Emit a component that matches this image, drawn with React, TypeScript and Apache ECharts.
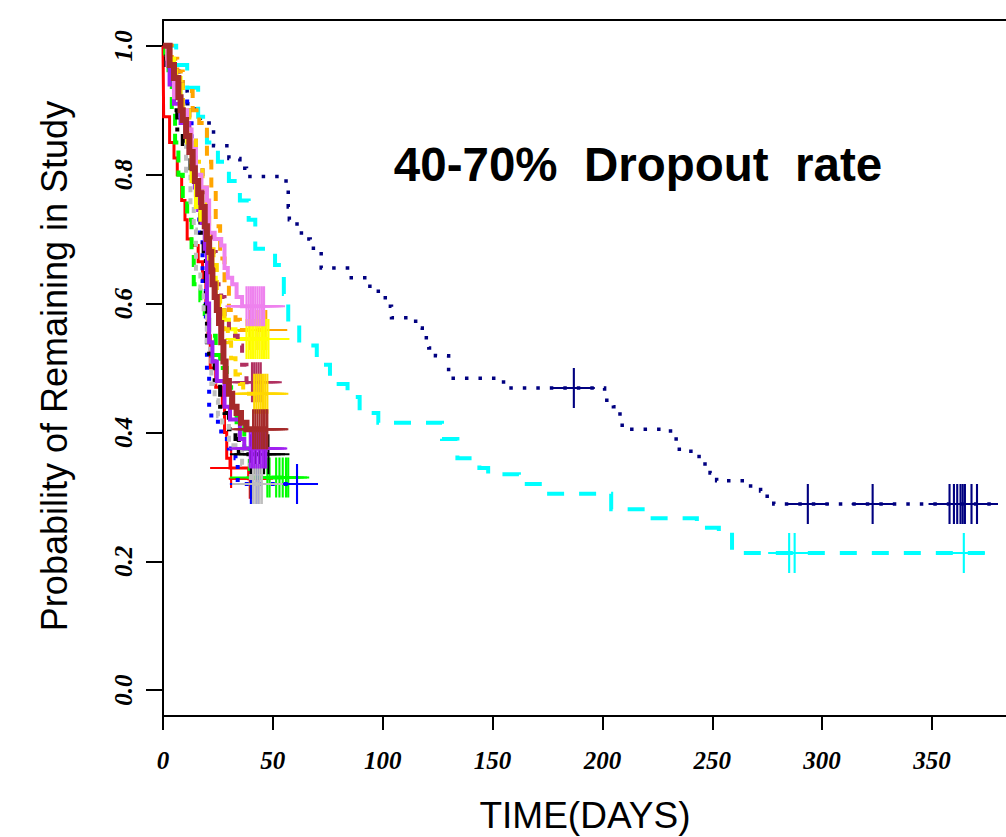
import React, { useEffect, useRef } from "react";
import * as echarts from "echarts";

// ---------- axis ticks ----------
const xTicks = [0, 50, 100, 150, 200, 250, 300, 350];
const yTicks = [0, 0.2, 0.4, 0.6, 0.8, 1.0];

// ---------- long curves ----------
const navyTimes = [0, 1, 3, 9, 11, 15, 17, 21, 23, 30, 35, 38, 56, 57, 57.5, 61, 63, 67, 72, 84, 93, 98, 102, 104, 115, 118, 121, 124, 130, 131, 155, 201, 205, 208, 209, 231, 235, 244, 249, 252, 266, 272, 275, 278, 380];
const navySurv = [1, 0.98, 0.96, 0.93, 0.91, 0.9, 0.88, 0.87, 0.845, 0.825, 0.81, 0.797, 0.78, 0.75, 0.73, 0.717, 0.7, 0.686, 0.655, 0.64, 0.627, 0.609, 0.596, 0.578, 0.562, 0.547, 0.531, 0.519, 0.491, 0.484, 0.469, 0.45, 0.44, 0.42, 0.405, 0.39, 0.371, 0.351, 0.337, 0.325, 0.317, 0.309, 0.293, 0.289, 0.289];
const navyCensor = [187, 293.5, 323, 358, 360, 361.5, 363, 364, 365, 368, 370.5];

const cyanTimes = [0, 6, 11, 16, 20, 25, 30, 35, 39, 42, 51, 55, 57, 62, 70, 76, 84, 89.5, 98, 127, 134, 144, 148, 162, 173, 204, 221, 243, 253, 259, 375];
const cyanSurv = [1, 0.97, 0.935, 0.89, 0.85, 0.82, 0.79, 0.76, 0.73, 0.685, 0.66, 0.615, 0.57, 0.535, 0.505, 0.475, 0.455, 0.43, 0.415, 0.39, 0.36, 0.345, 0.335, 0.32, 0.305, 0.281, 0.267, 0.252, 0.245, 0.213, 0.213];
const cyanCensor = [285, 287.5, 364.5];

// ---------- short curves ----------
const redTimes = [0, 0.3, 3, 5, 6.5, 8.5, 10, 11, 13, 16, 18, 19.5, 20.5, 21.5, 24, 27, 28, 29, 30.5, 39];
const redSurv = [1, 0.89, 0.85, 0.826, 0.8, 0.76, 0.73, 0.7, 0.69, 0.665, 0.635, 0.6, 0.55, 0.5, 0.47, 0.44, 0.4, 0.36, 0.345, 0.328];
const redCensor = [31, 39.5, 40.5];

const greenTimes = [0, 1, 2.5, 4, 5.5, 7, 9, 11, 13, 14, 17, 19, 21, 24, 26, 29, 31, 33.5, 37, 39.5];
const greenSurv = [1, 0.98, 0.95, 0.9, 0.85, 0.8, 0.76, 0.73, 0.68, 0.63, 0.605, 0.575, 0.55, 0.52, 0.5, 0.47, 0.44, 0.41, 0.375, 0.33];
const greenCensor = [40, 47.5, 48.5, 51.5, 53, 54.5, 56, 57];

const blueTimes = [0, 3, 7, 11, 13, 15, 16.5, 18, 19.5, 20, 21, 22, 25, 26.5, 30, 33, 34];
const blueSurv = [1, 0.96, 0.92, 0.885, 0.85, 0.78, 0.7, 0.635, 0.58, 0.49, 0.44, 0.42, 0.405, 0.39, 0.375, 0.36, 0.32];
const blueCensor = [40, 43, 61];

const blackTimes = [0, 1.5, 5, 6.5, 9, 12.5, 15, 17, 18.5, 19.5, 20, 21, 23.5, 26, 28, 30, 33, 34.5];
const blackSurv = [1, 0.97, 0.9, 0.86, 0.84, 0.8, 0.75, 0.71, 0.67, 0.6, 0.54, 0.51, 0.48, 0.44, 0.43, 0.405, 0.39, 0.366];
const blackCensor = [40, 42, 44, 46, 48];

const grayTimes = [0, 2, 5, 8, 10.5, 12.5, 14, 15, 17, 18.5, 20, 22, 23.5, 25, 27, 30, 36, 40];
const graySurv = [1, 0.97, 0.93, 0.88, 0.8, 0.75, 0.715, 0.65, 0.62, 0.585, 0.53, 0.475, 0.45, 0.425, 0.41, 0.38, 0.35, 0.32];
const grayCensor = [41, 42, 43, 44, 45];

const purpleTimes = [0, 3, 5, 8, 12, 13, 14.5, 16, 17.5, 19, 20, 21, 22.5, 24.5, 28, 30.5, 35, 37];
const purpleSurv = [1, 0.94, 0.91, 0.88, 0.85, 0.82, 0.78, 0.745, 0.725, 0.685, 0.6, 0.54, 0.51, 0.48, 0.44, 0.42, 0.39, 0.375];
const purpleCensor = [39.5, 40.5, 41.5, 42.5, 43.5, 44.5, 45.5, 46.5, 47];

const goldTimes = [0, 3, 6, 9, 12, 15, 18, 20, 21, 23, 24.5, 26, 28, 29.5, 31, 33, 35, 36.5];
const goldSurv = [1, 0.97, 0.94, 0.9, 0.86, 0.82, 0.78, 0.74, 0.69, 0.66, 0.62, 0.6, 0.56, 0.54, 0.515, 0.49, 0.475, 0.46];
const goldCensor = [41.5, 42.5, 43.5, 44.5, 45.5, 46.5, 47.5];

const orangeTimes = [0, 4, 6.5, 9, 13.5, 16.5, 20, 22, 24, 26, 28, 30, 33, 35];
const orangeSurv = [1, 0.98, 0.96, 0.93, 0.9, 0.88, 0.82, 0.78, 0.72, 0.67, 0.63, 0.59, 0.575, 0.559];
const orangeCensor = [39.5, 41, 43, 45, 47];

const yellowTimes = [0, 2, 5, 8, 11, 13, 15, 17, 19.5, 21, 22.5, 24, 25.5, 27, 30, 33];
const yellowSurv = [1, 0.98, 0.95, 0.9, 0.85, 0.79, 0.75, 0.73, 0.7, 0.67, 0.64, 0.61, 0.59, 0.575, 0.56, 0.545];
const yellowCensor = [38, 39, 40, 41, 42, 43, 44, 45, 46, 47, 48];

const maroonTimes = [0, 3, 6, 9, 12, 15, 18, 20, 22, 24, 26.5, 28, 30, 34, 36, 38];
const maroonSurv = [1, 0.97, 0.94, 0.9, 0.86, 0.81, 0.76, 0.72, 0.68, 0.63, 0.61, 0.58, 0.55, 0.535, 0.505, 0.478];
const maroonCensor = [40.5, 41.5, 42.5, 43.5, 44.5];

const violetTimes = [0, 2, 5, 8, 11, 13, 15, 17.5, 20, 21, 23.5, 26.5, 28, 29.5, 31.5, 33.5, 36];
const violetSurv = [1, 0.97, 0.92, 0.9, 0.87, 0.84, 0.8, 0.78, 0.76, 0.71, 0.7, 0.69, 0.655, 0.64, 0.63, 0.61, 0.596];
const violetCensor = [38, 39, 40, 41, 42, 43, 44, 45, 46];

const brownTimes = [0, 3, 5, 7, 8, 9, 10.5, 12, 13.5, 14.5, 16, 17.5, 19, 20, 21, 22, 22.5, 23.5, 24.5, 25.5, 26.5, 27.5, 28.5, 30, 31.5, 33.5, 35.5, 38];
const brownSurv = [1, 0.97, 0.95, 0.92, 0.9, 0.885, 0.86, 0.835, 0.81, 0.79, 0.77, 0.75, 0.72, 0.7, 0.68, 0.65, 0.63, 0.61, 0.59, 0.57, 0.54, 0.51, 0.48, 0.46, 0.44, 0.43, 0.415, 0.405];
const brownCensor = [41, 42, 43, 44, 45, 46, 47, 47.5];

// ---------- styles (separate from data) ----------
type Curve = {
  times: number[];
  surv: number[];
  censor: number[];
  color: string;
  width: number;
  dash: number[] | "solid";
};

const curves: Curve[] = [
  { times: navyTimes, surv: navySurv, censor: navyCensor, color: "#000080", width: 3.5, dash: [3.5, 10] },
  { times: cyanTimes, surv: cyanSurv, censor: cyanCensor, color: "#00FFFF", width: 4, dash: [17, 15] },
  { times: redTimes, surv: redSurv, censor: redCensor, color: "#FF0000", width: 3, dash: "solid" },
  { times: greenTimes, surv: greenSurv, censor: greenCensor, color: "#00FF00", width: 4, dash: [12, 8] },
  { times: blueTimes, surv: blueSurv, censor: blueCensor, color: "#0000FF", width: 4, dash: [4, 9] },
  { times: blackTimes, surv: blackSurv, censor: blackCensor, color: "#000000", width: 4, dash: [4, 8, 12, 8] },
  { times: grayTimes, surv: graySurv, censor: grayCensor, color: "#BEBEBE", width: 4, dash: [6, 6] },
  { times: purpleTimes, surv: purpleSurv, censor: purpleCensor, color: "#A020F0", width: 4, dash: "solid" },
  { times: orangeTimes, surv: orangeSurv, censor: orangeCensor, color: "#FFA500", width: 4, dash: [10, 8] },
  { times: yellowTimes, surv: yellowSurv, censor: yellowCensor, color: "#FFFF00", width: 4, dash: "solid" },
  { times: maroonTimes, surv: maroonSurv, censor: maroonCensor, color: "#B03060", width: 4, dash: [8, 10] },
  { times: goldTimes, surv: goldSurv, censor: goldCensor, color: "#FFD700", width: 4, dash: [10, 8] },
  { times: violetTimes, surv: violetSurv, censor: violetCensor, color: "#EE82EE", width: 4, dash: "solid" },
  { times: brownTimes, surv: brownSurv, censor: brownCensor, color: "#A52A2A", width: 6, dash: "solid" },
];

const PLUS =
  "path://M-1,-20L1,-20L1,-1L20,-1L20,1L1,1L1,20L-1,20L-1,1L-20,1L-20,-1L-1,-1Z";

function survAt(times: number[], surv: number[], t: number): number {
  let v = surv[0];
  for (let i = 0; i < times.length; i++) {
    if (times[i] <= t) v = surv[i];
  }
  return v;
}

const X_MAX = 383.7;
const SERIF = '"Liberation Serif", "Times New Roman", serif';
const SANS = '"Liberation Sans", Arial, sans-serif';

export default function App() {
  const ref = useRef<HTMLDivElement>(null);

  useEffect(() => {
    if (!ref.current) return;
    const chart = echarts.init(ref.current, null, { renderer: "svg" });

    const series: any[] = [];
    curves.forEach((c, i) => {
      const data = c.times.map((t, k) => [t, c.surv[k]]);
      const lastCensor = c.censor.length ? Math.max(...c.censor) : 0;
      const lastT = c.times[c.times.length - 1];
      if (lastCensor > lastT) data.push([lastCensor, c.surv[c.surv.length - 1]]);
      series.push({
        type: "line",
        step: "end",
        data,
        symbol: "none",
        showSymbol: false,
        silent: true,
        z: 2 + i,
        lineStyle: { color: c.color, width: c.width, type: c.dash, cap: "butt", join: "miter" },
      });
      series.push({
        type: "scatter",
        data: c.censor.map((t) => [t, survAt(c.times, c.surv, t)]),
        symbol: PLUS,
        symbolSize: [42, 40],
        silent: true,
        z: 2 + i,
        itemStyle: { color: c.color, opacity: 1 },
      });
    });

    const option: any = {
      animation: false,
      backgroundColor: "#ffffff",
      grid: { left: 163, right: 0, top: 20, bottom: 121, containLabel: false },
      xAxis: [
        {
          type: "value",
          min: 0,
          max: X_MAX,
          interval: 50,
          position: "bottom",
          axisLine: { show: true, onZero: false, lineStyle: { color: "#000", width: 2 } },
          axisTick: { show: true, inside: false, length: 14, lineStyle: { color: "#000", width: 2 }, customValues: xTicks },
          axisLabel: {
            show: true,
            customValues: xTicks,
            margin: 32,
            color: "#000",
            fontFamily: SERIF,
            fontWeight: "bold",
            fontStyle: "italic",
            fontSize: 25,
          },
          splitLine: { show: false },
        },
        {
          type: "value",
          min: 0,
          max: X_MAX,
          position: "top",
          axisLine: { show: true, onZero: false, lineStyle: { color: "#000", width: 2 } },
          axisTick: { show: false },
          axisLabel: { show: false },
          splitLine: { show: false },
        },
      ],
      yAxis: {
        type: "value",
        min: -0.04,
        max: 1.04,
        axisLine: { show: true, onZero: false, lineStyle: { color: "#000", width: 2 } },
        axisTick: { show: true, inside: false, length: 17, lineStyle: { color: "#000", width: 2 }, customValues: yTicks },
        axisLabel: {
          show: true,
          customValues: yTicks,
          rotate: 90,
          margin: 27,
          color: "#000",
          fontFamily: SERIF,
          fontWeight: "bold",
          fontStyle: "italic",
          fontSize: 25,
          formatter: (v: number) => v.toFixed(1),
        },
        splitLine: { show: false },
      },
      graphic: [
        {
          type: "text",
          x: 638,
          y: 164,
          silent: true,
          style: {
            text: "40-70%  Dropout  rate",
            font: `bold 47.5px ${SANS}`,
            fill: "#000",
            align: "center",
            textAlign: "center",
            verticalAlign: "middle",
            textVerticalAlign: "middle",
          },
        },
        {
          type: "text",
          x: 585,
          y: 815,
          silent: true,
          style: {
            text: "TIME(DAYS)",
            font: `37px ${SANS}`,
            fill: "#000",
            align: "center",
            textAlign: "center",
            verticalAlign: "middle",
            textVerticalAlign: "middle",
          },
        },
        {
          type: "text",
          x: 54,
          y: 366,
          rotation: Math.PI / 2,
          silent: true,
          style: {
            text: "Probability of Remaining in Study",
            font: `36px ${SANS}`,
            fill: "#000",
            align: "center",
            textAlign: "center",
            verticalAlign: "middle",
            textVerticalAlign: "middle",
          },
        },
      ],
      series,
    };

    chart.setOption(option);
    return () => chart.dispose();
  }, []);

  return (
    <div
      ref={ref}
      style={{ position: "absolute", left: 0, top: 0, width: 1006, height: 837, background: "#fff" }}
    />
  );
}
